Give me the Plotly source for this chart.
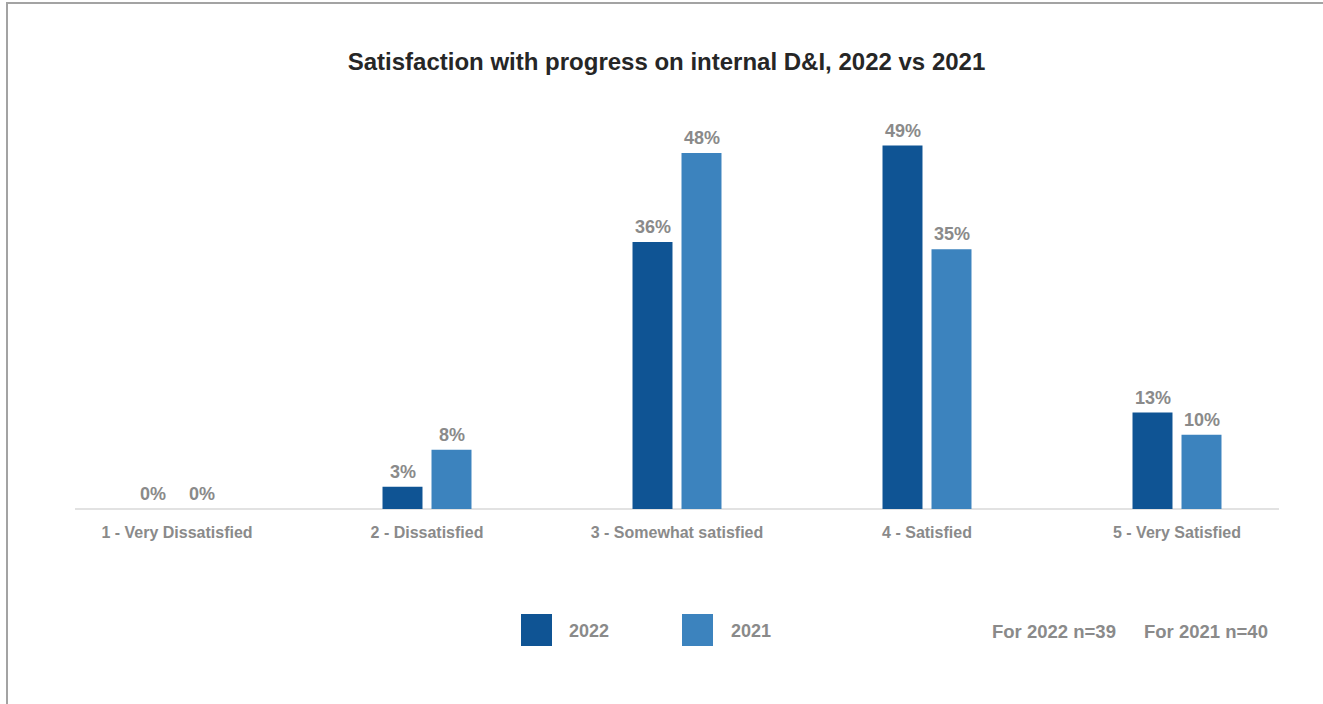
import plotly.graph_objects as go

# Survey categories and share of respondents per year
categories = ["1 - Very Dissatisfied", "2 - Dissatisfied", "3 - Somewhat satisfied",
              "4 - Satisfied", "5 - Very Satisfied"]
series_names = ["2022", "2021"]
values_2022 = [0.00, 0.03, 0.36, 0.49, 0.13]
values_2021 = [0.00, 0.08, 0.48, 0.35, 0.10]
sample_notes = ["For 2022 n=39", "For 2021 n=40"]

W, H = 1323, 704
M_L, M_R, M_T, M_B = 52, 21, 101, 195
PLOT_W = W - M_L - M_R
PLOT_H = H - M_T - M_B

DARK = "#0F5494"
LIGHT = "#3C83BE"
GREY = "#8a8a8a"
FONT = "Liberation Sans, Arial, sans-serif"


def px_x(px):
    return (px - M_L) / PLOT_W


def px_y(py):
    return (H - M_B - py) / PLOT_H


fig = go.Figure()
for name, vals, col in [(series_names[0], values_2022, DARK), (series_names[1], values_2021, LIGHT)]:
    fig.add_trace(go.Bar(name=name, x=categories, y=vals, marker=dict(color=col, line=dict(width=0)),
                         showlegend=False, hoverinfo="skip"))

# value labels above each bar
for i, vals in enumerate([values_2022, values_2021]):
    shift = -24.5 if i == 0 else 24.5
    for c, v in zip(categories, vals):
        fig.add_annotation(x=c, y=v, xref="x", yref="y", text=f"<b>{v*100:.0f}%</b>",
                           showarrow=False, xshift=shift, yshift=15, yanchor="middle",
                           font=dict(family=FONT, size=18, color=GREY))

shapes = [
    # outer frame
    dict(type="rect", xref="paper", yref="paper", x0=px_x(7), x1=px_x(1340), y0=px_y(720), y1=px_y(3),
         line=dict(color="#a3a3a3", width=2), fillcolor="rgba(0,0,0,0)", layer="below"),
    # category axis baseline
    dict(type="line", xref="paper", yref="paper", x0=px_x(75), x1=px_x(1279), y0=px_y(509), y1=px_y(509),
         line=dict(color="#d9d9d9", width=1.5), layer="below"),
]

# custom legend swatches and labels
legend_items = [(series_names[0], DARK, 521, 567), (series_names[1], LIGHT, 682, 729)]
for name, col, x0, tx in legend_items:
    shapes.append(dict(type="rect", xref="paper", yref="paper", x0=px_x(x0), x1=px_x(x0 + 31),
                       y0=px_y(646), y1=px_y(614), fillcolor=col, line=dict(width=0)))
    fig.add_annotation(x=px_x(tx), y=px_y(631), xref="paper", yref="paper", text=f"<b>{name}</b>",
                       showarrow=False, xanchor="left", yanchor="middle",
                       font=dict(family=FONT, size=18, color=GREY))

for note, tx in zip(sample_notes, [990, 1142]):
    fig.add_annotation(x=px_x(tx), y=px_y(631), xref="paper", yref="paper", text=f"<b>{note}</b>",
                       showarrow=False, xanchor="left", yanchor="middle",
                       font=dict(family=FONT, size=18.5, color=GREY))

fig.update_layout(
    width=W, height=H,
    margin=dict(l=M_L, r=M_R, t=M_T, b=M_B, pad=0),
    paper_bgcolor="white", plot_bgcolor="white",
    barmode="group", bargap=0.608, bargroupgap=0.184,
    title=dict(text="<b>Satisfaction with progress on internal D&I, 2022 vs 2021</b>",
               x=666.5 / W, xref="container", xanchor="center", y=1 - 62 / H, yanchor="middle",
               font=dict(family=FONT, size=24, color="#262626")),
    xaxis=dict(showline=False, showgrid=False, zeroline=False, ticks="",
               tickfont=dict(family=FONT, size=16, color=GREY),
               ticklabelstandoff=12),
    yaxis=dict(range=[0, 0.55], visible=False, showgrid=False, zeroline=False),
    shapes=shapes,
    showlegend=False,
)
fig.update_xaxes(ticktext=[f"<b>{c}</b>" for c in categories], tickvals=categories)

fig.write_html("out.html")
